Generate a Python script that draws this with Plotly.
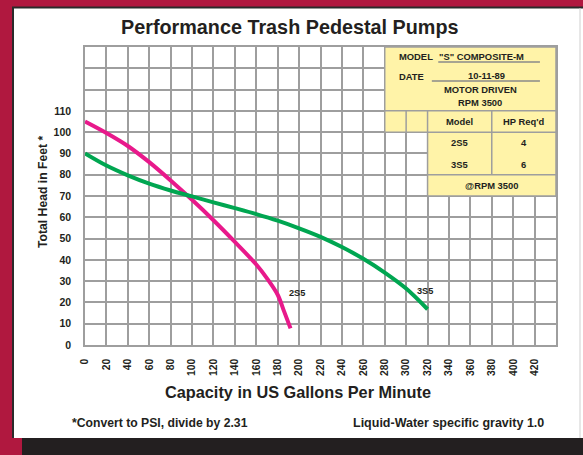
import plotly.graph_objects as go

# ---- data ----
gpm_2s5 = [0, 20, 40, 60, 80, 100, 120, 140, 160, 170, 180, 186, 192]
head_2s5 = [105, 99.6, 93.5, 85.9, 77.3, 68.2, 58.6, 48.4, 37.8, 31.3, 23.6, 15.8, 7.8]

gpm_3s5 = [0, 20, 40, 60, 80, 100, 120, 140, 160, 180, 200, 220, 240, 260, 280, 300, 320]
head_3s5 = [90, 84.3, 79.7, 75.8, 72.6, 69.8, 67.0, 64.3, 61.5, 58.4, 54.8, 50.8, 46.0, 40.5, 34.0, 26.5, 16.8]

x_ticks = list(range(0, 440, 20))
y_ticks = list(range(0, 140, 10))
y_ticktext = [str(v) if v <= 110 else "" for v in y_ticks]

table_models = ["2S5", "3S5"]
table_hp = ["4", "6"]

FONT = "Liberation Sans Narrow, Arial Narrow, Liberation Sans, Arial, sans-serif"
INK = "#231F20"
GRID = "#9e9e9e"
PINK = "#E8198B"
GREEN = "#00A651"
YELLOW = "#FFF3A8"
MAROON = "#B0183F"

# layout helpers (pixel -> paper)
L, R, T, B = 85, 27, 47, 110
W, H = 583, 455
PW, PH = W - L - R, H - T - B


def px(x):
    return (x - L) / PW


def py(y):
    return (H - B - y) / PH


fig = go.Figure()
fig.add_trace(go.Scatter(x=gpm_2s5, y=head_2s5, mode="lines",
                         line=dict(color=PINK, width=4, shape="spline", smoothing=0.9),
                         hoverinfo="skip"))
fig.add_trace(go.Scatter(x=gpm_3s5, y=head_3s5, mode="lines",
                         line=dict(color=GREEN, width=4, shape="spline", smoothing=0.9),
                         hoverinfo="skip"))

shapes = []
# background panel
shapes.append(dict(type="rect", xref="paper", yref="paper", x0=px(12), x1=px(583), y0=py(438), y1=py(7),
                   fillcolor="white", line=dict(width=0), layer="below"))
shapes.append(dict(type="line", xref="paper", yref="paper", x0=px(13), x1=px(13), y0=py(438), y1=py(7),
                   line=dict(color="#2a2a2a", width=2), layer="below"))
shapes.append(dict(type="line", xref="paper", yref="paper", x0=px(12), x1=px(583), y0=py(7.5), y1=py(7.5),
                   line=dict(color="#2a2a2a", width=2), layer="below"))
shapes.append(dict(type="line", xref="paper", yref="paper", x0=px(580), x1=px(580), y0=py(438), y1=py(8),
                   line=dict(color="#cfcfcf", width=1), layer="below"))
shapes.append(dict(type="rect", xref="paper", yref="paper", x0=px(22), x1=px(583), y0=py(455), y1=py(438),
                   fillcolor=INK, line=dict(width=0), layer="below"))

# yellow table
shapes.append(dict(type="rect", x0=280, x1=440, y0=100, y1=140, fillcolor=YELLOW,
                   line=dict(width=0), layer="above"))
shapes.append(dict(type="rect", x0=320, x1=440, y0=70, y1=100, fillcolor=YELLOW,
                   line=dict(width=0), layer="above"))
tl = dict(color=GRID, width=1.5)
for (x0, y0, x1, y1) in [
    (280, 100, 280, 140), (280, 110, 440, 110), (280, 100, 440, 100),
    (300, 100, 300, 110), (320, 70, 320, 110), (380, 80, 380, 110),
    (320, 80, 440, 80), (320, 70, 440, 70), (440, 70, 440, 140), (280, 140, 440, 140),
]:
    shapes.append(dict(type="line", x0=x0, y0=y0, x1=x1, y1=y1, line=tl, layer="above"))
# underlines in header block
shapes.append(dict(type="line", x0=330, x1=425, y0=133, y1=133, line=dict(color="#8a8a8a", width=1.5), layer="above"))
shapes.append(dict(type="line", x0=324, x1=425, y0=124, y1=124, line=dict(color="#8a8a8a", width=1.5), layer="above"))

annotations = []


def txt(text, x, y, size, xref="x", yref="y", xanchor="center", angle=0):
    annotations.append(dict(text=text, x=x, y=y, xref=xref, yref=yref, showarrow=False,
                            xanchor=xanchor, yanchor="middle", textangle=angle,
                            font=dict(family=FONT, size=size, color=INK, weight="bold")))


txt("Performance Trash Pedestal Pumps", px(290), py(27), 19.8, "paper", "paper")
txt("Total Head in Feet *", px(43), py(192), 12.2, "paper", "paper", angle=-90)
txt("Capacity in US Gallons Per Minute", px(298), py(392), 16.3, "paper", "paper")
txt("*Convert to PSI, divide by 2.31", px(160), py(423), 12.2, "paper", "paper")
txt("Liquid-Water specific gravity 1.0", px(448), py(423), 12.5, "paper", "paper")

TS = 9.4
txt("MODEL", 291.5, 135.4, TS, xanchor="left")
txt('"S" COMPOSITE-M', 370, 135.6, TS)
txt("DATE", 291.5, 126.2, TS, xanchor="left")
txt("10-11-89", 375, 126.5, TS)
txt("MOTOR DRIVEN", 369, 120, TS)
txt("RPM 3500", 369, 114, TS)
txt("Model", 350, 105, TS)
txt("HP Req'd", 410, 105, TS)
for i, (m, hp) in enumerate(zip(table_models, table_hp)):
    txt(m, 350, 95 - 10 * i, TS)
    txt(hp, 410, 95 - 10 * i, TS)
txt("@RPM 3500", 380, 75, TS)

txt("2S5", 198, 24.5, 9.2)
txt("3S5", 318, 25.4, 9.2)

fig.update_layout(
    width=W, height=H,
    margin=dict(l=L, r=R, t=T, b=B, pad=0),
    paper_bgcolor=MAROON, plot_bgcolor="white",
    showlegend=False,
    shapes=shapes, annotations=annotations,
    xaxis=dict(range=[0, 440], tickvals=x_ticks, ticktext=[str(v) for v in x_ticks],
               tickangle=-90, showgrid=True, gridcolor=GRID, gridwidth=1.5,
               showline=True, linecolor=GRID, linewidth=1.5, mirror=True, zeroline=False,
               ticks="", ticklabelstandoff=8, automargin=False,
               tickfont=dict(family=FONT, size=10.3, color=INK, weight="bold"), fixedrange=True),
    yaxis=dict(range=[0, 140], tickvals=y_ticks, ticktext=y_ticktext,
               showgrid=True, gridcolor=GRID, gridwidth=1.5,
               showline=True, linecolor=GRID, linewidth=1.5, mirror=True, zeroline=False,
               ticks="", ticklabelstandoff=10, automargin=False,
               tickfont=dict(family=FONT, size=10.5, color=INK, weight="bold"), fixedrange=True),
)

fig.write_html("out.html", config=dict(displayModeBar=False),
               post_script="document.body.style.margin='0';document.body.style.padding='0';")
